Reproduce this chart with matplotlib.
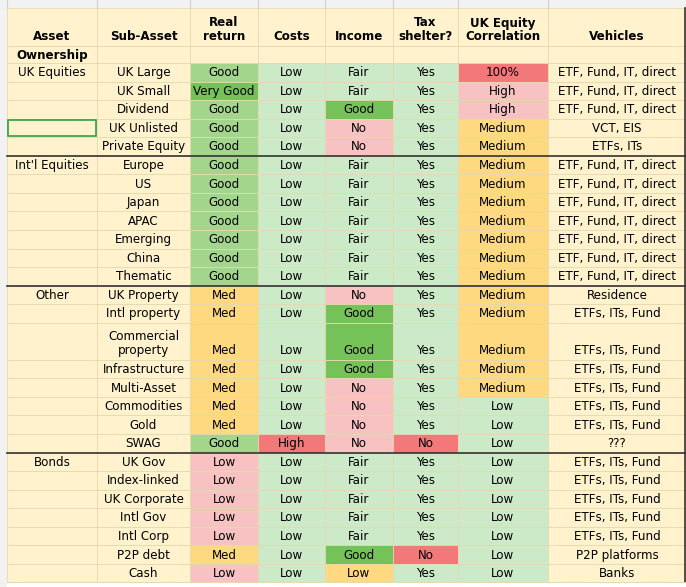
import matplotlib
matplotlib.use("Agg")
import matplotlib.pyplot as plt
from matplotlib.patches import Rectangle

headers = ["Asset", "Sub-Asset", "Real\nreturn", "Costs", "Income", "Tax\nshelter?", "UK Equity\nCorrelation", "Vehicles"]
assets = ["UK Equities", "", "", "", "", "Int'l Equities", "", "", "", "", "", "",
          "Other", "", "", "", "", "", "", "", "Bonds", "", "", "", "", "", ""]
sub_assets = ["UK Large", "UK Small", "Dividend", "UK Unlisted", "Private Equity",
              "Europe", "US", "Japan", "APAC", "Emerging", "China", "Thematic",
              "UK Property", "Intl property", "Commercial\nproperty", "Infrastructure", "Multi-Asset",
              "Commodities", "Gold", "SWAG",
              "UK Gov", "Index-linked", "UK Corporate", "Intl Gov", "Intl Corp", "P2P debt", "Cash"]
real_return = ["Good", "Very Good", "Good", "Good", "Good"] + ["Good"] * 7 + \
              ["Med"] * 7 + ["Good"] + ["Low"] * 5 + ["Med", "Low"]
costs = ["Low"] * 19 + ["High"] + ["Low"] * 7
income = ["Fair", "Fair", "Good", "No", "No"] + ["Fair"] * 7 + \
         ["No", "Good", "Good", "Good", "No", "No", "No", "No"] + ["Fair"] * 5 + ["Good", "Low"]
tax = ["Yes"] * 19 + ["No"] + ["Yes"] * 5 + ["No", "Yes"]
correlation = ["100%", "High", "High", "Medium", "Medium"] + ["Medium"] * 7 + \
              ["Medium"] * 5 + ["Low"] * 3 + ["Low"] * 7
vehicles = ["ETF, Fund, IT, direct"] * 3 + ["VCT, EIS", "ETFs, ITs"] + ["ETF, Fund, IT, direct"] * 7 + \
           ["Residence"] + ["ETFs, ITs, Fund"] * 6 + ["???"] + ["ETFs, ITs, Fund"] * 5 + ["P2P platforms", "Banks"]
row_units = [2 if s.startswith("Commercial") else 1 for s in sub_assets]
group_starts = [5, 12, 20]

BG = "#FFF2CC"; LG = "#CDEAC8"; G1 = "#A3D68C"; G2 = "#75C258"
PK = "#F8C2C2"; RD = "#F2787A"; YL = "#FFD980"
cmaps = {
    2: {"Good": G1, "Very Good": G2, "Med": YL, "Low": PK},
    3: {"Low": LG, "High": RD},
    4: {"Fair": LG, "Good": G2, "No": PK, "Low": YL},
    5: {"Yes": LG, "No": RD},
    6: {"100%": RD, "High": PK, "Medium": YL, "Low": LG},
}

W, H = 686, 587
fig = plt.figure(figsize=(W / 100, H / 100), dpi=100)
ax = fig.add_axes([0, 0, 1, 1])
ax.set_xlim(0, W); ax.set_ylim(H, 0); ax.axis("off")
fig.patch.set_facecolor("white")

xs = [7, 97, 190, 258, 325, 393, 458, 548, 686]
top = 8; hdr_b = 46; own_b = 63; rh = 18.55
FS = 8.6
line_c = "#E6D9B0"

# spreadsheet-like gray margin
ax.add_patch(Rectangle((0, 0), W, top, facecolor="#F2F2F2", edgecolor="none"))
ax.add_patch(Rectangle((0, 0), xs[0], H, facecolor="#F2F2F2", edgecolor="none"))
for x in xs:
    ax.plot([x, x], [0, top], color="#D0D0D0", lw=0.8)

def cell(x0, x1, y0, y1, color, text, bold=False, va="center"):
    ax.add_patch(Rectangle((x0, y0), x1 - x0, y1 - y0, facecolor=color, edgecolor=line_c, lw=0.6))
    if text:
        if va == "bottom":
            ax.text((x0 + x1) / 2, y1 - 3, text, ha="center", va="bottom", fontsize=FS,
                    fontweight="bold" if bold else "normal", linespacing=1.05)
        else:
            ax.text((x0 + x1) / 2, (y0 + y1) / 2 + 0.5, text, ha="center", va="center", fontsize=FS,
                    fontweight="bold" if bold else "normal", linespacing=1.05)

for j, h in enumerate(headers):
    cell(xs[j], xs[j + 1], top, hdr_b, BG, h, bold=True, va="bottom")
for j in range(8):
    cell(xs[j], xs[j + 1], hdr_b, own_b, BG, "Ownership" if j == 0 else "", bold=True)

cols = [assets, sub_assets, real_return, costs, income, tax, correlation, vehicles]
y = own_b
for i in range(len(sub_assets)):
    h = rh * row_units[i]
    for j in range(8):
        v = cols[j][i]
        c = cmaps.get(j, {}).get(v, BG)
        cell(xs[j], xs[j + 1], y, y + h, c, v, va="bottom" if row_units[i] == 2 else "center")
    if i in group_starts:
        ax.plot([xs[0], W], [y, y], color="#333333", lw=1.2)
    if i == 3:
        ax.add_patch(Rectangle((xs[0] + 1, y + 1), xs[1] - xs[0] - 2, h - 2, facecolor="none",
                               edgecolor="#2EA043", lw=1.2))
    y += h
ax.plot([W - 1, W - 1], [top, y], color="#333333", lw=1.2)
ax.plot([xs[0], W], [y, y], color=line_c, lw=0.6)

fig.savefig("out.png", dpi=100)
